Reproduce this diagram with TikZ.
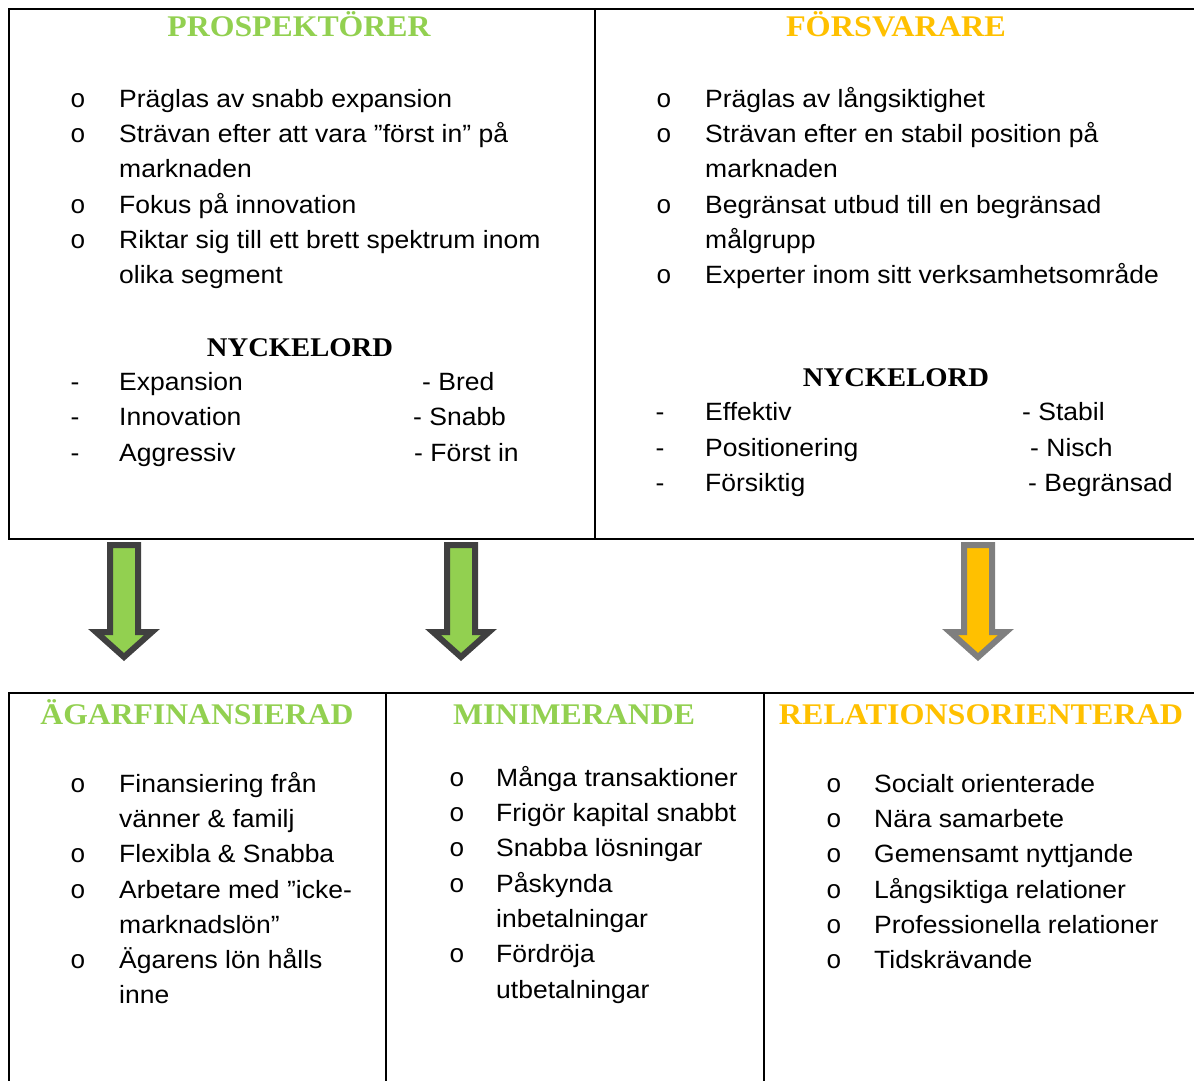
\documentclass[tikz,border=0pt]{standalone}
\usepackage{fontspec}
\setmainfont{Liberation Sans}[FakeStretch=1.06]
\newfontfamily\headfont{Liberation Serif}[FakeStretch=1.06]
\newfontfamily\bulletfont{Liberation Mono}
\definecolor{leafgreen}{HTML}{92D050}
\definecolor{amber}{HTML}{FFC000}
\definecolor{darkrim}{HTML}{404040}
\definecolor{greyrim}{HTML}{7F7F7F}
\tikzset{
  frame/.style={line width=2.2pt, black},
  txt/.style={anchor=base west, inner sep=0pt, yshift=-1pt, font=\fontsize{25}{30}\selectfont},
  bul/.style={anchor=base, inner sep=0pt, yshift=-1pt, font=\bulletfont\fontsize{26}{30}\selectfont},
  dsh/.style={anchor=base, inner sep=0pt, yshift=-1pt, font=\fontsize{25}{30}\selectfont},
  toptitle/.style={anchor=base, inner sep=0pt, font=\headfont\bfseries\fontsize{30}{34}\selectfont},
  lowtitle/.style={anchor=base, inner sep=0pt, font=\headfont\bfseries\fontsize{30}{34}\selectfont},
  keyhead/.style={anchor=base, inner sep=0pt, font=\headfont\bfseries\fontsize{27}{32}\selectfont},
  blockarrow/.pic={\path[pic actions] (-14,0) -- (14,0) -- (14,87) -- (28,87) -- (0,112) -- (-28,87) -- (-14,87) -- cycle;},
  greenarrow/.style={fill=leafgreen, draw=darkrim, line width=6pt, line join=miter},
  amberarrow/.style={fill=amber, draw=greyrim, line width=6pt, line join=miter}
}
\begin{document}
\begin{tikzpicture}[x=1pt,y=-1pt]
\useasboundingbox (0,0) rectangle (1194,1081);
\begin{scope}
  \clip (0,0) rectangle (1194,1081);
  % upper frame
  \draw[frame] (1200,9) -| (9,539) -- (1200,539);
  \draw[frame] (595,9) -- (595,539);
  % lower frame
  \draw[frame] (9,1090) |- (1200,693);
  \draw[frame] (386,693) -- (386,1090);
  \draw[frame] (764,693) -- (764,1090);
\end{scope}

% block arrows
\pic[greenarrow] at (124,545) {blockarrow};
\pic[greenarrow] at (461,545) {blockarrow};
\pic[amberarrow] at (978,545) {blockarrow};

% ---------- PROSPEKTÖRER ----------
\node[toptitle, text=leafgreen] (ptitle) at (299,37) {\resizebox{263pt}{\height}{PROSPEKTÖRER}};
\node[bul] (pb1) at (78,106) {o};
\node[txt] (pt1) at (119,106) {Präglas av snabb expansion};
\node[bul] (pb2) at (78,141) {o};
\node[txt] (pt2) at (119,141) {Strävan efter att vara ”först in” på};
\node[txt] (pt3) at (119,176) {marknaden};
\node[bul] (pb4) at (78,212) {o};
\node[txt] (pt4) at (119,212) {Fokus på innovation};
\node[bul] (pb5) at (78,247) {o};
\node[txt] (pt5) at (119,247) {Riktar sig till ett brett spektrum inom};
\node[txt] (pt6) at (119,282) {olika segment};
\node[keyhead] (pkey) at (300,356) {NYCKELORD};
\node[dsh] (pd1) at (75,389) {-};
\node[txt] (pk1) at (119,389) {Expansion};
\node[txt] (pr1) at (422,389) {- Bred};
\node[dsh] (pd2) at (75,424) {-};
\node[txt] (pk2) at (119,424) {Innovation};
\node[txt] (pr2) at (413,424) {- Snabb};
\node[dsh] (pd3) at (75,460) {-};
\node[txt] (pk3) at (119,460) {Aggressiv};
\node[txt] (pr3) at (414,460) {- Först in};

% ---------- FÖRSVARARE ----------
\node[toptitle, text=amber] (ftitle) at (896,37) {\resizebox{220pt}{\height}{FÖRSVARARE}};
\node[bul] (fb1) at (664,106) {o};
\node[txt] (ft1) at (705,106) {Präglas av långsiktighet};
\node[bul] (fb2) at (664,141) {o};
\node[txt] (ft2) at (705,141) {Strävan efter en stabil position på};
\node[txt] (ft3) at (705,176) {marknaden};
\node[bul] (fb4) at (664,212) {o};
\node[txt] (ft4) at (705,212) {Begränsat utbud till en begränsad};
\node[txt] (ft5) at (705,247) {målgrupp};
\node[bul] (fb6) at (664,282) {o};
\node[txt] (ft6) at (705,282) {Experter inom sitt verksamhetsområde};
\node[keyhead] (fkey) at (896,386) {NYCKELORD};
\node[dsh] (fd1) at (660,419) {-};
\node[txt] (fk1) at (705,419) {Effektiv};
\node[txt] (fr1) at (1022,419) {- Stabil};
\node[dsh] (fd2) at (660,455) {-};
\node[txt] (fk2) at (705,455) {Positionering};
\node[txt] (fr2) at (1030,455) {- Nisch};
\node[dsh] (fd3) at (660,490) {-};
\node[txt] (fk3) at (705,490) {Försiktig};
\node[txt] (fr3) at (1028,490) {- Begränsad};

% ---------- ÄGARFINANSIERAD ----------
\node[lowtitle, text=leafgreen] (atitle) at (197,724) {\resizebox{313pt}{\height}{ÄGARFINANSIERAD}};
\node[bul] (ab1) at (78,791) {o};
\node[txt] (at1) at (119,791) {Finansiering från};
\node[txt] (at2) at (119,826) {vänner \& familj};
\node[bul] (ab3) at (78,861) {o};
\node[txt] (at3) at (119,861) {Flexibla \& Snabba};
\node[bul] (ab4) at (78,897) {o};
\node[txt] (at4) at (119,897) {Arbetare med ”icke-};
\node[txt] (at5) at (119,932) {marknadslön”};
\node[bul] (ab6) at (78,967) {o};
\node[txt] (at6) at (119,967) {Ägarens lön hålls};
\node[txt] (at7) at (119,1002) {inne};

% ---------- MINIMERANDE ----------
\node[lowtitle, text=leafgreen] (mtitle) at (574,724) {\resizebox{242pt}{\height}{MINIMERANDE}};
\node[bul] (mb1) at (457,785) {o};
\node[txt] (mt1) at (496,785) {Många transaktioner};
\node[bul] (mb2) at (457,820) {o};
\node[txt] (mt2) at (496,820) {Frigör kapital snabbt};
\node[bul] (mb3) at (457,855) {o};
\node[txt] (mt3) at (496,855) {Snabba lösningar};
\node[bul] (mb4) at (457,891) {o};
\node[txt] (mt4) at (496,891) {Påskynda};
\node[txt] (mt5) at (496,926) {inbetalningar};
\node[bul] (mb6) at (457,961) {o};
\node[txt] (mt6) at (496,961) {Fördröja};
\node[txt] (mt7) at (496,997) {utbetalningar};

% ---------- RELATIONSORIENTERAD ----------
\node[lowtitle, text=amber] (rtitle) at (981,724) {\resizebox{404pt}{\height}{RELATIONSORIENTERAD}};
\node[bul] (rb1) at (834,791) {o};
\node[txt] (rt1) at (874,791) {Socialt orienterade};
\node[bul] (rb2) at (834,826) {o};
\node[txt] (rt2) at (874,826) {Nära samarbete};
\node[bul] (rb3) at (834,861) {o};
\node[txt] (rt3) at (874,861) {Gemensamt nyttjande};
\node[bul] (rb4) at (834,897) {o};
\node[txt] (rt4) at (874,897) {Långsiktiga relationer};
\node[bul] (rb5) at (834,932) {o};
\node[txt] (rt5) at (874,932) {Professionella relationer};
\node[bul] (rb6) at (834,967) {o};
\node[txt] (rt6) at (874,967) {Tidskrävande};
\end{tikzpicture}
\end{document}
